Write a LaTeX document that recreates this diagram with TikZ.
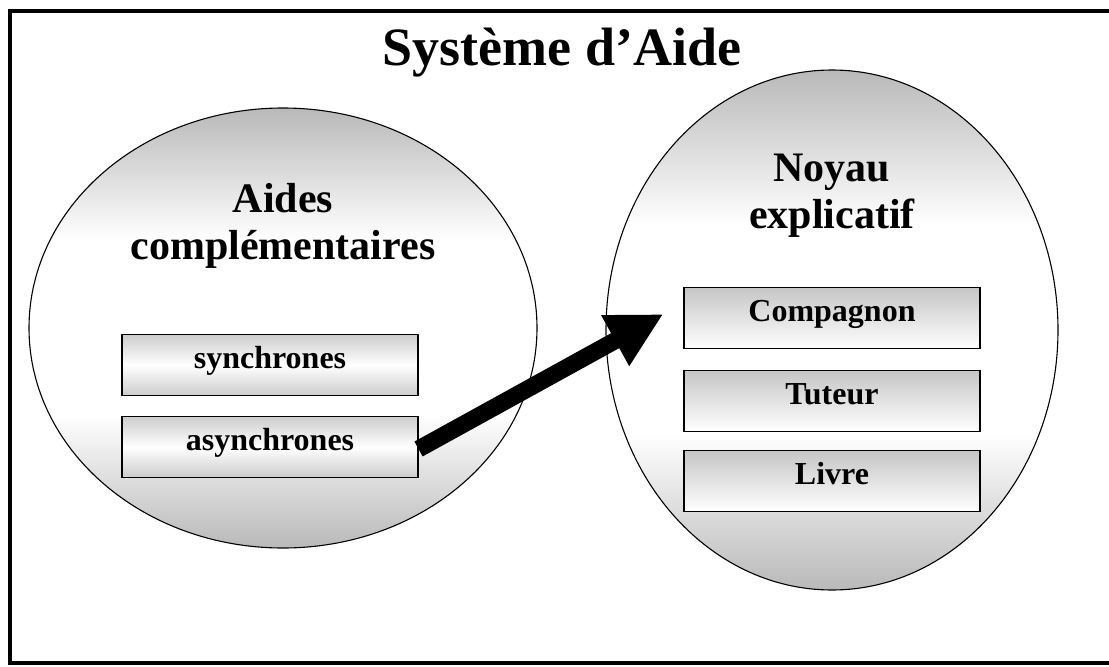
\documentclass[tikz,border=0pt]{standalone}
\usepackage{fontspec}
\setmainfont{Liberation Serif}
\usepackage{xcolor}
\usepackage{tikz}
\usetikzlibrary{positioning,arrows.meta,shapes.geometric}
\pgfdeclareverticalshading{ellfade}{100bp}{color(0bp)=(gray!55); color(25bp)=(gray!55); color(40bp)=(white); color(60bp)=(white); color(75bp)=(gray!55); color(100bp)=(gray!55)}

\begin{document}
\begin{tikzpicture}[x=1pt,y=-1pt,
  ell/.style={draw,ellipse,line width=1.1pt,shade,shading=ellfade,inner sep=0pt},
  lbl/.style={font=\fontsize{42}{47}\selectfont\bfseries,align=center,inner sep=0pt},
  bx/.style={draw,line width=1.1pt,minimum width=296pt,minimum height=61pt,inner sep=0pt,text height=22pt,text depth=16pt,font=\fontsize{32}{36}\selectfont\bfseries},
  bxl/.style={bx,top color=gray!40,bottom color=gray!40,middle color=white},
  bxr/.style={bx,top color=gray!45,bottom color=white},
  ar/.style={-{Triangle[length=55pt,width=54pt]},line width=17pt}]
\useasboundingbox (0,0) rectangle (1109,667);
% frame
\draw[line width=4pt] (1109,11) -- (10,11) -- (10,663) -- (1109,663);
\node[font=\fontsize{54}{60}\selectfont\bfseries,anchor=base] (title) at (562,65) {Système d’Aide};
% left: complementary aids
\node[ell,minimum width=508pt,minimum height=440pt] (aides) at (283,328) {};
\node[lbl] (aideslbl) at (283,226) {Aides\\complémentaires};
\node[bxl] (sync) at (270,365) {synchrones};
\node[bxl] (async) at (270,447) {asynchrones};
% right: explanatory core
\node[ell,minimum width=452pt,minimum height=520pt] (noyau) at (832,330) {};
\node[lbl] (noyaulbl) at (832,196) {Noyau\\explicatif};
\node[bxr] (comp) at (832,318) {Compagnon};
\node[bxr] (tut) at (832,401) {Tuteur};
\node[bxr] (livre) at (832,481) {Livre};
\draw[ar,shorten >=23pt] ([yshift=-2pt]async.east) -- ([yshift=15pt]comp.west);
\end{tikzpicture}
\end{document}
